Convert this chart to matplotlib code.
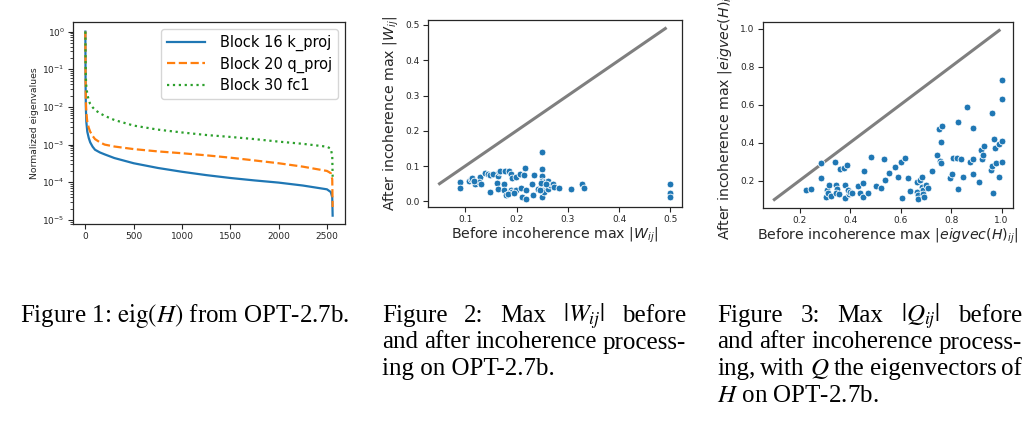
import numpy as np
import matplotlib
matplotlib.use("Agg")
from matplotlib import pyplot as plt
from matplotlib.ticker import LogLocator, NullFormatter

plt.rcParams['font.family'] = ['DejaVu Sans']
plt.rcParams['mathtext.fontset'] = 'dejavusans'

# figure 1: normalized eigenvalue spectra (values read at sampled indices)
eig_idx = [0, 2, 5, 10, 20, 35, 50, 75, 100, 150, 200, 300, 500, 750, 1000,
           1250, 1500, 1750, 2000, 2250, 2500, 2540, 2555, 2559]
k_proj16 = [1.0, 5e-2, 1e-2, 4e-3, 2.2e-3, 1.5e-3, 1.15e-3, 8.8e-4, 7.3e-4, 6.2e-4,
            5.5e-4, 4.4e-4, 3.2e-4, 2.4e-4, 1.9e-4, 1.55e-4, 1.3e-4, 1.12e-4,
            9.8e-5, 8.2e-5, 6.5e-5, 5.5e-5, 4e-5, 1.3e-5]
q_proj20 = [1.0, 6e-2, 1.5e-2, 7e-3, 4e-3, 2.8e-3, 2.2e-3, 1.7e-3, 1.4e-3, 1.15e-3,
            1.0e-3, 8.9e-4, 7.6e-4, 6.6e-4, 5.9e-4, 5.2e-4, 4.5e-4, 3.8e-4,
            3.2e-4, 2.6e-4, 2.0e-4, 1.75e-4, 1.2e-4, 2.2e-5]
fc1_30 = [1.0, 0.2, 0.06, 0.035, 0.022, 0.015, 0.012, 0.0098, 0.0083, 0.0068,
          0.0058, 0.0045, 0.0032, 0.0025, 0.0021, 0.0018, 0.0016, 0.0014,
          0.0012, 0.00105, 0.00088, 0.00078, 0.0005, 0.00014]
series_labels = ["Block 16 k_proj", "Block 20 q_proj", "Block 30 fc1"]

# figure 2: max |W_ij| before / after
w_before = [0.090, 0.090, 0.107, 0.111, 0.114, 0.120, 0.129, 0.127, 0.130, 0.139,
            0.144, 0.148, 0.154, 0.149, 0.163, 0.162, 0.163, 0.165, 0.167, 0.175,
            0.176, 0.178, 0.180, 0.186, 0.190, 0.191, 0.190, 0.191, 0.199, 0.199,
            0.207, 0.209, 0.211, 0.214, 0.216, 0.219, 0.219, 0.231, 0.232, 0.235,
            0.241, 0.250, 0.250, 0.250, 0.250, 0.250, 0.250, 0.250, 0.253, 0.253,
            0.261, 0.261, 0.265, 0.271, 0.274, 0.282, 0.306, 0.328, 0.332, 0.500,
            0.500, 0.500, 0.118, 0.245, 0.248, 0.257, 0.184, 0.196]
w_after = [0.054, 0.037, 0.059, 0.064, 0.067, 0.048, 0.070, 0.054, 0.050, 0.080,
           0.078, 0.075, 0.078, 0.026, 0.073, 0.052, 0.036, 0.083, 0.085, 0.050,
           0.031, 0.085, 0.017, 0.085, 0.078, 0.066, 0.031, 0.026, 0.070, 0.031,
           0.078, 0.038, 0.012, 0.076, 0.094, 0.031, 0.008, 0.050, 0.019, 0.076,
           0.036, 0.139, 0.092, 0.073, 0.059, 0.045, 0.031, 0.012, 0.054, 0.026,
           0.059, 0.036, 0.045, 0.050, 0.040, 0.038, 0.035, 0.048, 0.038, 0.050,
           0.024, 0.012, 0.058, 0.033, 0.052, 0.048, 0.022, 0.025]
w_diag = [0.05, 0.49]

# figure 3: max |eigvec(H)_ij| before / after
q_before = [0.224, 0.244, 0.286, 0.283, 0.303, 0.310, 0.316, 0.312, 0.323, 0.342,
            0.346, 0.350, 0.343, 0.356, 0.359, 0.375, 0.381, 0.381, 0.388, 0.394,
            0.392, 0.398, 0.408, 0.431, 0.438, 0.451, 0.451, 0.455, 0.471, 0.482,
            0.504, 0.521, 0.535, 0.539, 0.554, 0.577, 0.588, 0.603, 0.606, 0.619,
            0.630, 0.639, 0.663, 0.666, 0.670, 0.670, 0.676, 0.683, 0.685, 0.687,
            0.690, 0.692, 0.700, 0.707, 0.726, 0.746, 0.753, 0.756, 0.758, 0.765,
            0.758, 0.795, 0.804, 0.808, 0.824, 0.828, 0.828, 0.839, 0.848, 0.861,
            0.874, 0.885, 0.888, 0.888, 0.912, 0.918, 0.924, 0.926, 0.931, 0.958,
            0.963, 0.967, 0.963, 0.971, 0.975, 0.978, 0.990, 0.991, 1.000, 1.000,
            1.000, 1.000]
q_after = [0.152, 0.158, 0.293, 0.211, 0.114, 0.152, 0.175, 0.135, 0.117, 0.295,
           0.175, 0.158, 0.135, 0.128, 0.263, 0.267, 0.110, 0.179, 0.281, 0.128,
           0.149, 0.140, 0.137, 0.170, 0.135, 0.189, 0.114, 0.249, 0.137, 0.322,
           0.170, 0.163, 0.311, 0.202, 0.241, 0.269, 0.219, 0.295, 0.110, 0.320,
           0.216, 0.145, 0.193, 0.140, 0.122, 0.105, 0.202, 0.219, 0.167, 0.149,
           0.131, 0.114, 0.175, 0.161, 0.251, 0.334, 0.470, 0.304, 0.404, 0.487,
           0.293, 0.211, 0.237, 0.318, 0.318, 0.510, 0.154, 0.311, 0.219, 0.586,
           0.299, 0.475, 0.316, 0.233, 0.193, 0.360, 0.316, 0.334, 0.381, 0.255,
           0.558, 0.137, 0.278, 0.417, 0.369, 0.290, 0.392, 0.219, 0.730, 0.630,
           0.408, 0.299]
q_diag = [0.1, 0.99]

W, H = 1036, 424
fig = plt.figure(figsize=(W / 100, H / 100), dpi=100)

def px_axes(l, t, r, b):
    return fig.add_axes([l / W, 1 - b / H, (r - l) / W, (b - t) / H])

def style(ax, fs):
    for s in ax.spines.values():
        s.set_color('#262626')
        s.set_linewidth(0.9)
    ax.tick_params(direction='out', length=3.5, width=0.8, color='#262626',
                   labelsize=fs, labelcolor='#262626', pad=2.5)
    ax.tick_params(which='minor', direction='out', length=2, width=0.6, color='#262626')

# --- panel 1
ax1 = px_axes(73, 22, 345, 224)
ax1.plot(eig_idx, k_proj16, '-', color='#1f77b4', lw=1.6, label=series_labels[0])
ax1.plot(eig_idx, q_proj20, '--', color='#ff7f0e', lw=1.6, label=series_labels[1])
ax1.plot(eig_idx, fc1_30, ':', color='#2ca02c', lw=1.6, label=series_labels[2])
ax1.set_yscale('log')
ax1.set_ylim(7.8e-6, 1.8)
ax1.yaxis.set_major_locator(LogLocator(base=10, numticks=10))
ax1.yaxis.set_minor_locator(LogLocator(base=10, subs=np.arange(2, 10), numticks=20))
ax1.yaxis.set_minor_formatter(NullFormatter())
ax1.set_xticks([0, 500, 1000, 1500, 2000, 2500])
ax1.set_ylabel('Normalized eigenvalues', fontsize=6.7, color='#262626', labelpad=2)
style(ax1, 6.5)
ax1.legend(loc='upper right', fontsize=10.5, handlelength=2.6, framealpha=0.8,
           borderpad=0.4, labelspacing=0.35, handletextpad=1.0)

# --- panel 2
ax2 = px_axes(428, 20, 682, 207)
ax2.plot(w_diag, w_diag, color='#7f7f7f', lw=2.2)
ax2.scatter(w_before, w_after, s=24, color='#1f77b4', edgecolor='white', linewidth=0.6, zorder=3)
ax2.set_xticks([0.1, 0.2, 0.3, 0.4, 0.5])
ax2.set_yticks([0.0, 0.1, 0.2, 0.3, 0.4, 0.5])
ax2.set_xlabel(r'Before incoherence max $|W_{ij}|$', fontsize=10.2, color='#262626', labelpad=1)
ax2.set_ylabel(r'After incoherence max $|W_{ij}|$', fontsize=10.2, color='#262626', labelpad=3)
style(ax2, 6.5)

# --- panel 3
ax3 = px_axes(763, 22, 1013, 208)
ax3.plot(q_diag, q_diag, color='#7f7f7f', lw=2.2)
ax3.scatter(q_before, q_after, s=24, color='#1f77b4', edgecolor='white', linewidth=0.6, zorder=3)
ax3.set_xticks([0.2, 0.4, 0.6, 0.8, 1.0])
ax3.set_yticks([0.2, 0.4, 0.6, 0.8, 1.0])
ax3.set_xlabel(r'Before incoherence max $|eigvec(H)_{ij}|$', fontsize=10.2, color='#262626', labelpad=1)
ax3.set_ylabel(r'After incoherence max $|eigvec(H)_{ij}|$', fontsize=10.2, color='#262626', labelpad=3)
style(ax3, 6.5)

# --- captions
cap_font = dict(family='Liberation Serif', size=18, color='black', math_fontfamily='stix')
renderer = fig.canvas.get_renderer()

def line(x0, y, words, x1=None):
    yy = 1 - y / H
    if x1 is None:
        fig.text(x0 / W, yy, ' '.join(words), va='baseline', ha='left', **cap_font)
        return
    texts = [fig.text(0, yy, w, va='baseline', ha='left', **cap_font) for w in words]
    widths = [t.get_window_extent(renderer).width for t in texts]
    gap = (x1 - x0 - sum(widths)) / (len(words) - 1)
    x = x0
    for t, wd in zip(texts, widths):
        t.set_x(x / W)
        x += wd + gap

line(20, 322, ['Figure 1:', r'$\mathrm{eig}(H)$', 'from', 'OPT-2.7b.'])

line(382, 322, ['Figure', '2:', 'Max', r'$|W_{ij}|$', 'before'], 686)
line(382, 348.5, ['and', 'after', 'incoherence', 'process-'], 686)
line(382, 375, ['ing', 'on', 'OPT-2.7b.'])

line(717, 322, ['Figure', '3:', 'Max', r'$|Q_{ij}|$', 'before'], 1022)
line(717, 348.5, ['and', 'after', 'incoherence', 'process-'], 1022)
line(717, 375, ['ing,', 'with', '$Q$', 'the', 'eigenvectors', 'of'], 1022)
line(717, 401.5, ['$H$', 'on', 'OPT-2.7b.'])

fig.savefig('out.png', dpi=100)
